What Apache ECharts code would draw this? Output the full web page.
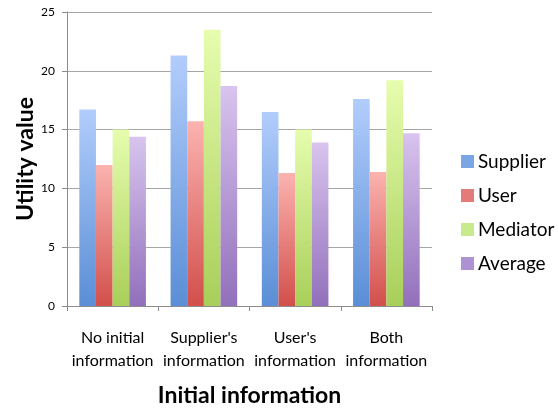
<!DOCTYPE html>
<html>
<head>
<meta charset="utf-8">
<script src="https://cdn.jsdelivr.net/npm/echarts@6/dist/echarts.min.js"></script>
<style>
  html, body { margin: 0; padding: 0; background: #fff; }
  #chart { width: 559px; height: 409px; }
</style>
</head>
<body>
<div id="chart"></div>
<script>
// 数据
const categories = ['No initial\ninformation', "Supplier's\ninformation", "User's\ninformation", 'Both\ninformation']
const supplier = [16.7, 21.3, 16.5, 17.6]
const user = [12.0, 15.7, 11.3, 11.4]
const mediator = [15.0, 23.5, 15.0, 19.2]
const average = [14.4, 18.7, 13.9, 14.7]
const yTicks = [0, 5, 10, 15, 20, 25]

const FONT = 'Lato'

// 上浅下深的渐变
const grad = (top, bottom) => new echarts.graphic.LinearGradient(0, 0, 0, 1, [
    { offset: 0, color: top },
    { offset: 1, color: bottom },
])

const seriesDefs = [
    { name: 'Supplier', data: supplier, top: '#b2cdfc', bottom: '#5a8ed6', icon: '#7aa6e6' },
    { name: 'User', data: user, top: '#fbb3b0', bottom: '#d24f4b', icon: '#e57b78' },
    { name: 'Mediator', data: mediator, top: '#e6fdae', bottom: '#a8cf59', icon: '#c9ea8c' },
    { name: 'Average', data: average, top: '#d8c4ee', bottom: '#9270bb', icon: '#ae92d4' },
]

const chart = echarts.init(document.getElementById('chart'), null, { renderer: 'canvas' })

chart.setOption({
    animation: false,
    textStyle: { fontFamily: FONT },
    grid: { left: 67, right: 127, top: 12, bottom: 103, outerBoundsMode: 'none', containLabel: false },
    legend: {
        orient: 'vertical',
        left: 456,
        top: 147,
        itemWidth: 13,
        itemHeight: 13,
        itemGap: 15,
        icon: 'rect',
        textStyle: { fontSize: 19, color: '#000', fontFamily: FONT, padding: [0, 0, 0, -1] },
        data: seriesDefs.map((s) => ({ name: s.name, itemStyle: { color: s.icon } })),
    },
    xAxis: {
        type: 'category',
        data: categories,
        name: 'Initial information',
        nameLocation: 'middle',
        nameGap: 78,
        nameMoveOverlap: false,
        nameTextStyle: { fontSize: 23, fontWeight: 'bold', color: '#000', fontFamily: FONT },
        axisLine: { lineStyle: { color: '#8c8c8c' } },
        axisTick: { show: true, length: 5, lineStyle: { color: '#8c8c8c' } },
        axisLabel: { fontSize: 16, color: '#000', margin: 20, lineHeight: 23, interval: 0 },
    },
    yAxis: {
        type: 'value',
        min: yTicks[0],
        max: yTicks[yTicks.length - 1],
        interval: 5,
        name: 'Utility value',
        nameLocation: 'middle',
        nameGap: 30,
        nameMoveOverlap: false,
        nameTextStyle: { fontSize: 23, fontWeight: 'bold', color: '#000', fontFamily: FONT },
        axisLine: { show: true, lineStyle: { color: '#8c8c8c' } },
        axisTick: { show: true, length: 5, lineStyle: { color: '#8c8c8c' } },
        axisLabel: { fontSize: 12, color: '#000', margin: 12 },
        splitLine: { lineStyle: { color: '#a6a6a6', width: 1 } },
    },
    series: seriesDefs.map((s) => ({
        name: s.name,
        type: 'bar',
        data: s.data,
        barGap: '0%',
        barCategoryGap: '27%',
        itemStyle: { color: grad(s.top, s.bottom) },
    })),
})
</script>
</body>
</html>
